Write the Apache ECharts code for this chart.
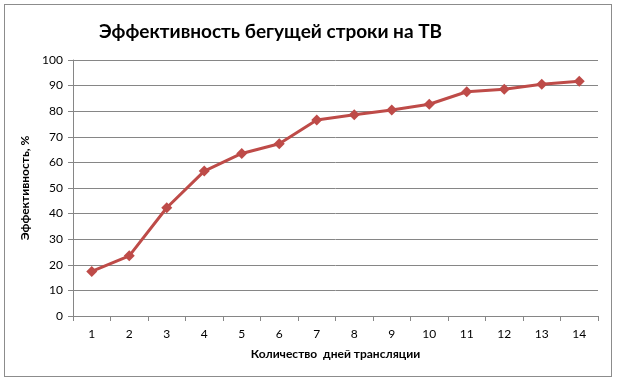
<!DOCTYPE html>
<html>
<head>
<meta charset="utf-8">
<script src="https://cdn.jsdelivr.net/npm/echarts@6/dist/echarts.min.js"></script>
<style>
html,body{margin:0;padding:0;background:#fff;}
#frame{position:absolute;left:4px;top:4px;width:608px;height:373px;border:1px solid #8c8c8c;box-sizing:border-box;}
#chart{position:absolute;left:0;top:0;width:620px;height:384px;}
</style>
</head>
<body>
<div id="frame"></div>
<div id="chart"></div>
<script>
const titleText = 'Эффективность бегущей строки на ТВ';
const xAxisName = 'Количество  дней трансляции';
const yAxisName = 'Эффективность, %';
const days = ['1','2','3','4','5','6','7','8','9','10','11','12','13','14'];
const efficiency = [17.4, 23.5, 42.3, 56.6, 63.5, 67.3, 76.6, 78.6, 80.5, 82.7, 87.6, 88.6, 90.5, 91.7];

const chart = echarts.init(document.getElementById('chart'), null, {renderer:'canvas'});
const font = "'Lato', 'Open Sans', sans-serif";
chart.setOption({
  animation:false,
  backgroundColor:'transparent',
  title:{
    text:titleText, left:94, top:17,
    textStyle:{fontFamily:font, fontSize:19, fontWeight:'bold', color:'#000'}
  },
  grid:{left:73, right:22, top:60, bottom:68},
  xAxis:{
    type:'category', data:days, boundaryGap:true,
    name:xAxisName, nameLocation:'middle', nameGap:32,
    nameTextStyle:{fontFamily:font, fontSize:12, fontWeight:'bold', color:'#000'},
    axisLine:{lineStyle:{color:'#868686', width:1}},
    axisTick:{show:true, length:5, lineStyle:{color:'#868686'}},
    axisLabel:{fontFamily:font, fontSize:12, color:'#000', margin:12}
  },
  yAxis:{
    type:'value', min:0, max:100, interval:10,
    name:yAxisName, nameLocation:'middle', nameGap:42, nameRotate:90,
    nameTextStyle:{fontFamily:font, fontSize:12, fontWeight:'bold', color:'#000'},
    axisLine:{show:true, lineStyle:{color:'#868686', width:1}},
    axisTick:{show:true, length:5, lineStyle:{color:'#868686'}},
    axisLabel:{fontFamily:font, fontSize:12, color:'#000', margin:10},
    splitLine:{show:true, lineStyle:{color:'#868686', width:1}}
  },
  series:[{
    type:'line', data:efficiency,
    symbol:'diamond', symbolSize:11,
    lineStyle:{color:'#BE4B48', width:3},
    itemStyle:{color:'#BE4B48'}
  }]
});
</script>
</body>
</html>
